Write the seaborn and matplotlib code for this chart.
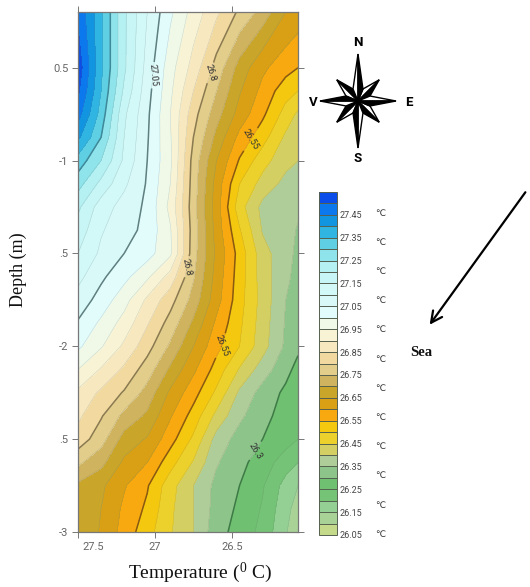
import numpy as np
import seaborn as sns
import matplotlib.pyplot as plt
from matplotlib.colors import ListedColormap, BoundaryNorm
from matplotlib.patches import Polygon
from matplotlib.transforms import ScaledTranslation

sns.set_style('ticks')
plt.rcParams['font.family'] = ['Roboto', 'DejaVu Sans']
plt.rcParams['mathtext.default'] = 'regular'

# temperature field, one row per depth
col_pos = [27.5, 27.35, 27.2, 27.05, 26.9, 26.75, 26.6, 26.45, 26.3, 26.15, 26.07]
depths = [-0.2, -0.5, -0.625, -0.75, -0.875, -1.0, -1.125, -1.25, -1.375, -1.5, -1.625,
          -1.75, -1.875, -2.0, -2.125, -2.25, -2.375, -2.5, -2.625, -2.75, -2.875, -3.0]
field = [
    [27.49, 27.36, 27.21, 27.10, 27.01, 26.93, 26.86, 26.79, 26.73, 26.65, 26.63],
    [27.53, 27.36, 27.21, 27.08, 26.97, 26.88, 26.78, 26.68, 26.61, 26.57, 26.55],
    [27.51, 27.35, 27.19, 27.07, 26.96, 26.85, 26.75, 26.655, 26.585, 26.52, 26.50],
    [27.47, 27.33, 27.16, 27.06, 26.95, 26.82, 26.72, 26.63, 26.56, 26.48, 26.44],
    [27.41, 27.30, 27.15, 27.055, 26.955, 26.80, 26.685, 26.585, 26.52, 26.44, 26.41],
    [27.33, 27.25, 27.14, 27.05, 26.96, 26.78, 26.65, 26.545, 26.47, 26.415, 26.40],
    [27.27, 27.185, 27.11, 27.045, 26.95, 26.775, 26.63, 26.50, 26.43, 26.385, 26.375],
    [27.21, 27.125, 27.08, 27.04, 26.935, 26.77, 26.625, 26.47, 26.385, 26.37, 26.36],
    [27.18, 27.105, 27.07, 27.035, 26.955, 26.775, 26.63, 26.505, 26.395, 26.37, 26.345],
    [27.15, 27.09, 27.05, 27.02, 26.96, 26.77, 26.64, 26.53, 26.42, 26.365, 26.34],
    [27.115, 27.06, 27.015, 26.96, 26.88, 26.755, 26.63, 26.525, 26.425, 26.36, 26.335],
    [27.08, 27.03, 26.97, 26.89, 26.82, 26.73, 26.62, 26.52, 26.43, 26.35, 26.33],
    [27.045, 26.99, 26.93, 26.855, 26.78, 26.69, 26.59, 26.51, 26.425, 26.345, 26.32],
    [27.01, 26.955, 26.89, 26.82, 26.74, 26.65, 26.565, 26.50, 26.42, 26.34, 26.31],
    [26.95, 26.895, 26.84, 26.775, 26.69, 26.61, 26.53, 26.445, 26.375, 26.315, 26.285],
    [26.89, 26.84, 26.795, 26.73, 26.64, 26.57, 26.49, 26.39, 26.33, 26.29, 26.26],
    [26.86, 26.805, 26.735, 26.69, 26.605, 26.53, 26.435, 26.36, 26.315, 26.28, 26.255],
    [26.83, 26.77, 26.68, 26.645, 26.57, 26.49, 26.38, 26.33, 26.30, 26.27, 26.25],
    [26.76, 26.715, 26.64, 26.60, 26.52, 26.445, 26.355, 26.315, 26.275, 26.225, 26.20],
    [26.69, 26.66, 26.605, 26.555, 26.47, 26.40, 26.335, 26.30, 26.255, 26.18, 26.15],
    [26.69, 26.65, 26.59, 26.54, 26.46, 26.40, 26.33, 26.29, 26.245, 26.165, 26.13],
    [26.69, 26.645, 26.58, 26.52, 26.455, 26.40, 26.32, 26.28, 26.235, 26.155, 26.11],
]

levels = [round(26.05 + 0.05 * i, 2) for i in range(31)]
band_colors = [
    '#c5d98a', '#a9d396', '#94cf94', '#74c376', '#6fc070', '#8cc48a', '#afcd98',
    '#d3cf63', '#ecd12c', '#f3c80f', '#f7a90f', '#d9a015', '#c9a52a', '#cfb35e',
    '#e2cd8b', '#f2d9a0', '#f8e8bf', '#f8f3d5', '#f0f9e8', '#e2fbfb', '#d9f9f9',
    '#d2f8f8', '#c8f5f5', '#b5f0f2', '#8fe3ea', '#5fd0e3', '#30b5e3', '#1295e0',
    '#0b78ee', '#0a4de8',
]
major_levels = [26.3, 26.55, 26.8, 27.05, 27.3]
major_colors = ['#3d7a45', '#8a5a10', '#8a7a50', '#5f8080', '#3f8a9a']
x_ticks = [27.5, 27, 26.5]
x_labels = ['27.5', '27', '26.5']
y_ticks = [-0.5, -1, -1.5, -2, -2.5, -3]
y_labels = ['0.5', '-1', '.5', '-2', '.5', '-3']
cbar_ticks = [round(26.05 + 0.1 * i, 2) for i in range(15)]

W, H = 530, 587
fig = plt.figure(figsize=(W / 100, H / 100), dpi=100, facecolor='white')
ax = fig.add_axes([78 / W, 1 - 532 / H, 220 / W, 520 / H])

cmap = ListedColormap(sns.color_palette(band_colors))
norm = BoundaryNorm(levels, cmap.N)
cf = ax.contourf(col_pos, depths, field, levels=levels, cmap=cmap, norm=norm)
ax.contour(col_pos, depths, field, levels=levels, colors='#6a7a70', linewidths=0.35, alpha=0.3)
cs = ax.contour(col_pos, depths, field, levels=major_levels, colors=major_colors, linewidths=1.1)
lab_spots = [(27.02, -0.54), (26.63, -0.53), (26.80, -1.57), (26.41, -0.87), (26.56, -2.0), (26.41, -2.53)]
ax.clabel(cs, fmt='%g', fontsize=6.5, colors='#333333', manual=lab_spots, inline_spacing=2)

ax.set_xlim(27.5, 26.07)
ax.set_ylim(-3, -0.2)
ax.set_xticks(x_ticks, x_labels)
ax.set_yticks(y_ticks, y_labels)
ax.tick_params(top=True, right=True, length=4, width=0.7, color='#777777',
               labelsize=8, labelcolor='#666666', pad=3)
for side in ax.spines.values():
    side.set_color('#777777')
    side.set_linewidth(0.9)
shift = ScaledTranslation(15 / 100, 0, fig.dpi_scale_trans)
first = ax.get_xticklabels()[0]
first.set_transform(first.get_transform() + shift)

ax.set_xlabel('')
ax.set_ylabel('')
fig.text(200 / W, 1 - 573 / H, 'Temperature ($^{0}$ C)', family='Liberation Serif',
         fontsize=14, color='#111111', ha='center', va='center')
fig.text(18 / W, 1 - 270 / H, 'Depth (m)', family='Liberation Serif', fontsize=13,
         color='#111111', rotation=90, ha='center', va='center')

cax = fig.add_axes([319 / W, 1 - 535 / H, 18 / W, 343 / H])
cb = fig.colorbar(cf, cax=cax, ticks=cbar_ticks, drawedges=True, spacing='uniform')
cb.ax.set_yticklabels([f'{t:.2f}' for t in cbar_ticks])
cb.ax.minorticks_off()
cb.ax.tick_params(length=0, labelsize=6.5, labelcolor='#444444', pad=2)
cb.dividers.set_color('#55604f')
cb.dividers.set_linewidth(0.7)
cb.outline.set_edgecolor('#55604f')
cb.outline.set_linewidth(0.7)

# overlay in picture pixels for the compass, the arrow and the side notes
over = fig.add_axes([0, 0, 1, 1], facecolor='none')
over.set_xlim(0, W)
over.set_ylim(H, 0)
over.axis('off')

for i in range(12):
    over.text(380, 213 + i * 29.2, '℃', fontsize=6.5, color='#333333',
              family=['DejaVu Sans'], ha='center', va='center')


def star_point(cx, cy, angle, length, inner):
    # one point of the compass star, black on the clockwise half
    a = np.radians(angle)
    tip = (cx + length * np.sin(a), cy - length * np.cos(a))
    right = (cx + inner * np.sin(a + np.pi / 8), cy - inner * np.cos(a + np.pi / 8))
    left = (cx + inner * np.sin(a - np.pi / 8), cy - inner * np.cos(a - np.pi / 8))
    over.add_patch(Polygon([(cx, cy), tip, left], fc='white', ec='black', lw=1.0))
    over.add_patch(Polygon([(cx, cy), tip, right], fc='black', ec='black', lw=1.0))


for ang in [45, 135, 225, 315]:
    star_point(358, 101, ang, 30, 13)
for ang in [0, 90, 180, 270]:
    star_point(358, 101, ang, 47 if ang % 180 == 0 else 38, 13)

for lab, px, py in [('N', 358, 43), ('S', 358, 158), ('V', 313, 102), ('E', 409, 102)]:
    over.text(px, py, lab, fontsize=9.5, fontweight='bold', color='black', ha='center', va='center')

over.annotate('', xy=(428, 327), xytext=(527, 190),
              arrowprops=dict(arrowstyle='->,head_width=0.4,head_length=0.8', lw=1.6, color='black'))
over.text(410, 352, 'Sea', family='Liberation Serif', fontsize=10.5, fontweight='bold',
          color='#111111', ha='left', va='center')

fig.savefig('out.png', dpi=100)
